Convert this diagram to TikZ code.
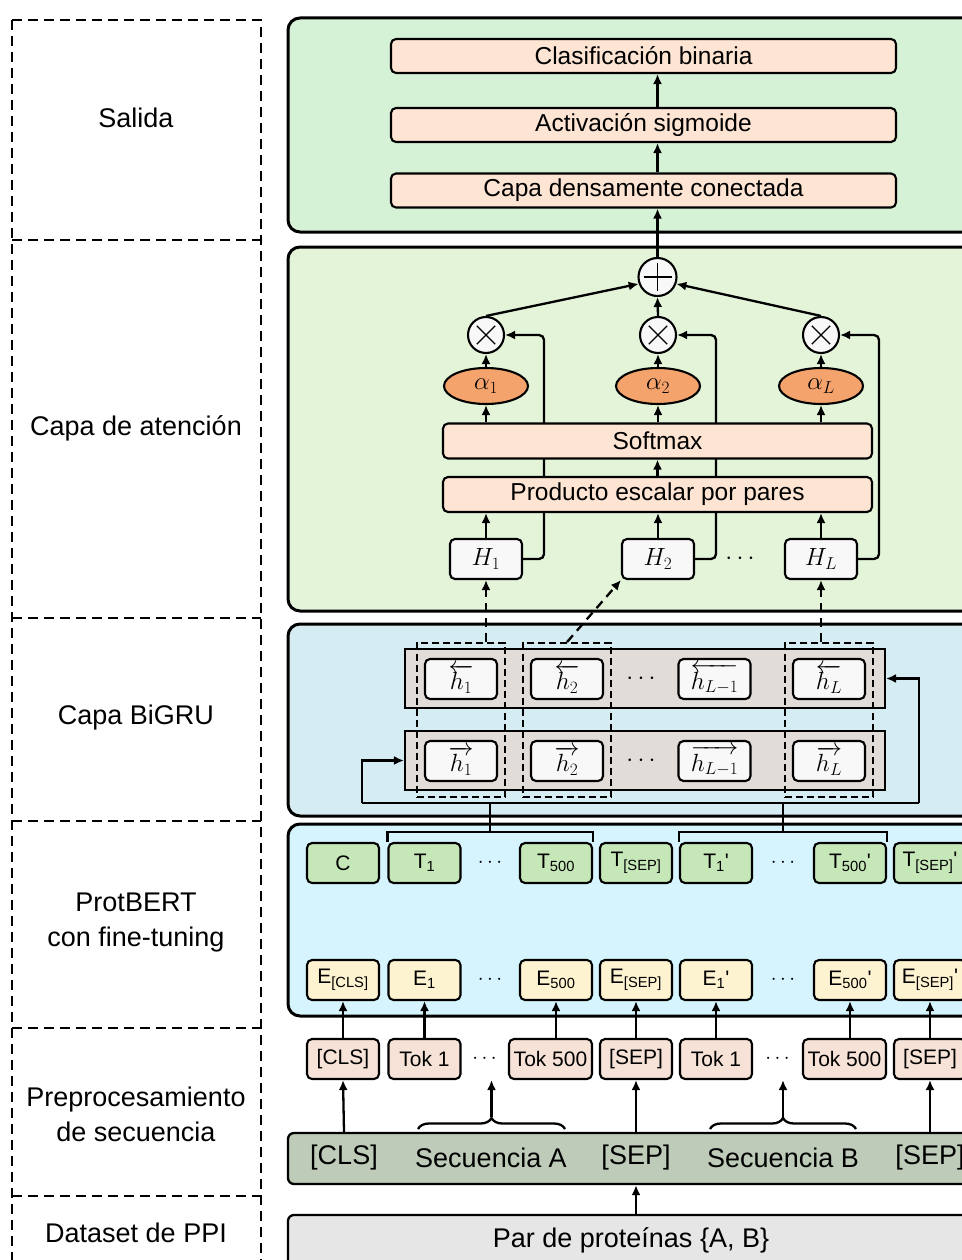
\documentclass[tikz,border=0pt]{standalone}
\usepackage[no-math]{fontspec}
\setmainfont{Liberation Sans}
\DeclareMathSizes{24.88}{24.88}{17.28}{12}
\usetikzlibrary{arrows.meta,positioning,shapes.geometric,fit,calc,decorations.pathreplacing}

\definecolor{outgreen}{HTML}{D5F2D6}
\definecolor{attgreen}{HTML}{E3F4D9}
\definecolor{grublue}{HTML}{D5ECF3}
\definecolor{bertblue}{HTML}{D6F4FD}
\definecolor{seqgray}{HTML}{BDCBB8}
\definecolor{pairgray}{HTML}{E6E6E6}
\definecolor{peach}{HTML}{FDE4D3}
\definecolor{alphaorange}{HTML}{F5A36D}
\definecolor{cellwhite}{HTML}{F8F8F8}
\definecolor{grubar}{HTML}{E2DCD9}
\definecolor{tgreen}{HTML}{C6E8B8}
\definecolor{eyellow}{HTML}{FEF3D0}
\definecolor{tokpink}{HTML}{F6E2D6}

\begin{document}
\begin{tikzpicture}[x=1pt,y=-1pt,line width=2.3pt,>={Latex[length=10pt,width=9pt]}]
  \tikzstyle{panel}=[draw,line width=3pt,rounded corners=12pt]
  \tikzstyle{secframe}=[dash pattern=on 10pt off 6pt,line width=2.5pt]
  \tikzstyle{seclab}=[align=center,font=\fontsize{27}{35}\selectfont]
  \tikzstyle{boxP}=[rectangle,draw,line width=2.1pt,rounded corners=5pt,fill=peach,minimum height=34pt,inner sep=0pt,font=\fontsize{24.5}{29}\selectfont]
  \tikzstyle{opC}=[circle,draw,line width=2.1pt,fill=cellwhite,minimum size=36pt,inner sep=0pt]
  \tikzstyle{alphaE}=[ellipse,draw,line width=2.1pt,fill=alphaorange,minimum width=84pt,minimum height=36pt,inner sep=0pt,font=\fontsize{24.88}{29}\selectfont]
  \tikzstyle{cellH}=[rectangle,draw,line width=2.1pt,rounded corners=5pt,fill=cellwhite,minimum width=72pt,minimum height=40pt,inner sep=0pt,font=\fontsize{24.88}{29}\selectfont]
  \tikzstyle{gruBar}=[rectangle,draw,line width=2.1pt,fill=grubar,minimum width=480pt,minimum height=59pt,inner sep=0pt]
  \tikzstyle{colbox}=[draw,line width=1.8pt,dash pattern=on 7pt off 4pt,inner xsep=7pt,inner ysep=15pt]
  \tikzstyle{tokT}=[rectangle,draw,line width=2.1pt,rounded corners=5pt,minimum width=72pt,minimum height=40pt,inner sep=0pt,font=\fontsize{21}{25}\selectfont]
  \tikzstyle{seqtxt}=[font=\fontsize{27}{32}\selectfont]
  \tikzstyle{dashedarr}=[->,dash pattern=on 9pt off 6pt]
  \tikzstyle{brace}=[decorate,decoration={brace,amplitude=11pt}]

  \useasboundingbox (0,0) rectangle (961,1260);

  % layer panels
  \draw[panel,fill=outgreen] (288,18) rectangle (1000,232);
  \draw[panel,fill=attgreen] (288,247) rectangle (1000,611);
  \draw[panel,fill=grublue] (288,624) rectangle (1000,816);
  \draw[panel,fill=bertblue] (288,824) rectangle (1000,1016);

  % left column
  \node[seclab] (lOut)  at (136,118)  {Salida};
  \node[seclab] (lAtt)  at (136,428)  {Capa de atención};
  \node[seclab] (lGru)  at (136,718)  {Capa BiGRU};
  \node[seclab] (lBert) at (136,923)  {ProtBERT\\con fine-tuning};
  \node[seclab] (lPre)  at (136,1114) {Preprocesamiento\\de secuencia};
  \node[seclab] (lPpi)  at (136,1233) {Dataset de PPI};
  \draw[secframe] (12,20) rectangle (261,1280);
  \foreach \yy in {240,618,821,1028,1196}
    \draw[secframe] (12,\yy) -- (261,\yy);

  % attention
  \node[opC,minimum size=38pt] (sum) at (657.5,277) {};
  \draw[line width=1.1pt] ($(sum)+(-14,0)$) -- ($(sum)+(14,0)$) ($(sum)+(0,-14)$) -- ($(sum)+(0,14)$);
  \foreach \n/\xx in {1/486,2/658,L/821} {
    \node[opC] (m\n) at (\xx,335) {};
    \draw[line width=1.1pt] ($(m\n)+(45:13)$) -- ($(m\n)+(225:13)$) ($(m\n)+(135:13)$) -- ($(m\n)+(315:13)$);
    \node[alphaE] (a\n) at (\xx,386) {$\alpha_{\n}$};
    \node[cellH] (H\n) at (\xx,559) {$H_{\n}$};
    \draw[->,rounded corners=5pt] (H\n.east) -- ++(21,0) |- (m\n.east);
  }
  \node at (740,559) {\fontsize{24.88}{29}\selectfont$\cdots$};

  \node[boxP,minimum width=429pt,minimum height=35pt] (soft) at (657.5,441) {Softmax};
  \node[boxP,minimum width=429pt,minimum height=35pt] (dot) at (657.5,494.5) {Producto escalar por pares};

  \foreach \n in {1,2,L} {
    \draw[->] (H\n.north) -- (H\n |- dot.south);
    \draw[->] (soft.north -| a\n) -- (a\n.south);
    \draw[->] (a\n.north) -- (m\n.south);
  }
  \draw[->] (dot.north -| sum) -- (soft.south -| sum);
  \draw[->] (m1.north) -- (sum.200);
  \draw[->] (m2.north) -- (sum.south);
  \draw[->] (mL.north) -- (sum.-20);

  % output
  \node[boxP,minimum width=505pt] (cls)   at (643.5,56)    {Clasificación binaria};
  \node[boxP,minimum width=505pt] (sig)   at (643.5,125)   {Activación sigmoide};
  \node[boxP,minimum width=505pt] (dense) at (643.5,190.5) {Capa densamente conectada};
  \draw[->] (sum.north) -- (sum |- dense.south);
  \draw[->] (dense.north -| sum) -- (sig.south -| sum);
  \draw[->] (sig.north -| sum) -- (cls.south -| sum);

  % BiGRU
  \coordinate (gL) at (362,803);
  \coordinate (gR) at (919,803);
  \draw (gL) -- (gR);
  \node[gruBar] (bw) at (645,678.5) {};
  \node[gruBar] (fw) at (645,760.5) {};
  \draw[->] (gL) |- (fw.west);
  \draw[->] (gR) |- (bw.east);
  \foreach \n/\xx/\lab in {1/461/1,2/567/2,m/714.5/{L-1},L/829/L} {
    \node[cellH] (b\n) at (\xx,679) {$\overleftarrow{h_{\lab}}$};
    \node[cellH] (f\n) at (\xx,761) {$\overrightarrow{h_{\lab}}$};
  }
  \node at (641,679) {\fontsize{24.88}{29}\selectfont$\cdots$};
  \node at (641,761) {\fontsize{24.88}{29}\selectfont$\cdots$};
  \node[colbox,fit=(b1)(f1)] (c1) {};
  \node[colbox,fit=(b2)(f2)] (c2) {};
  \node[colbox,fit=(bL)(fL)] (cL) {};
  \draw[dashedarr] (c1.north -| H1) -- (H1.south);
  \draw[dashedarr] (c2.north) -- (H2.south west);
  \draw[dashedarr] (cL.north -| HL) -- (HL.south);

  % ProtBERT
  \foreach \n/\xx/\lab in {C/343/C,1/424.5/{T\textsubscript{1}},500/556/{T\textsubscript{500}},S/636/{T\textsubscript{[SEP]}},
      1p/716/{T\textsubscript{1}\textquotesingle},500p/850/{T\textsubscript{500}\textquotesingle},Sp/930/{T\textsubscript{[SEP]}\textquotesingle}}
    \node[tokT,fill=tgreen] (t\n) at (\xx,863) {\lab};
  \foreach \n/\xx/\lab in {C/343/{E\textsubscript{[CLS]}},1/424.5/{E\textsubscript{1}},500/556/{E\textsubscript{500}},S/636/{E\textsubscript{[SEP]}},
      1p/716/{E\textsubscript{1}\textquotesingle},500p/850/{E\textsubscript{500}\textquotesingle},Sp/930/{E\textsubscript{[SEP]}\textquotesingle}}
    \node[tokT,fill=eyellow] (e\n) at (\xx,980) {\lab};
  \foreach \yy in {863,980} {
    \node at (490,\yy) {\fontsize{21}{25}\selectfont$\cdots$};
    \node at (783,\yy) {\fontsize{21}{25}\selectfont$\cdots$};
  }
  \draw (t1.north west) -- ++(0,-10) -| (t500.north east);
  \draw (t1p.north west) -- ++(0,-10) -| (t500p.north east);
  \draw ($(t1.north west)!0.5!(t500.north east)+(0,-10)$) -- ++(0,-30);
  \draw ($(t1p.north west)!0.5!(t500p.north east)+(0,-10)$) -- ++(0,-30);

  % preprocessing
  \node[panel,line width=2.3pt,rounded corners=6pt,fill=seqgray,minimum width=712pt,minimum height=51pt] (seq) at (644,1158.5) {};
  \node[panel,line width=2.3pt,rounded corners=6pt,fill=pairgray,minimum width=712pt,minimum height=80pt] (pair) at (644,1255) {};
  \node[seqtxt] (pairT) at (631,1240) {Par de proteínas \{A, B\}};
  \node[seqtxt] (sCLS) at (344,1158) {[CLS]};
  \node[seqtxt] (sA)   at (491,1158) {Secuencia A};
  \node[seqtxt] (sS)   at (636,1158) {[SEP]};
  \node[seqtxt] (sB)   at (783,1158) {Secuencia B};
  \node[seqtxt] (sS2)  at (930,1158) {[SEP]};
  \draw[->] (pair.north -| sS) -- (seq.south -| sS);

  \foreach \n/\xx/\ww/\lab in {C/343/72/{[CLS]},1/424.5/72/{Tok 1},500/550.5/83/{Tok 500},S/636/72/{[SEP]},
      1p/716/72/{Tok 1},500p/844.5/83/{Tok 500},Sp/930/72/{[SEP]}}
    \node[tokT,fill=tokpink,minimum width=\ww pt] (k\n) at (\xx,1059) {\lab};
  \node at (484.5,1059) {\fontsize{21}{25}\selectfont$\cdots$};
  \node at (777.5,1059) {\fontsize{21}{25}\selectfont$\cdots$};
  \foreach \n in {C,1,500,S,1p,500p,Sp}
    \draw[->] (k\n.north -| e\n) -- (e\n.south);

  \draw[->] (seq.north -| sCLS) -- (kC.south);
  \draw[->] (seq.north -| sS) -- (kS.south);
  \draw[->] (seq.north -| sS2) -- (kSp.south);
  \draw[brace] (418,1129) -- (565,1129);
  \draw[brace] (710,1129) -- (856,1129);
  \coordinate (tipA) at (491.5,1117);
  \coordinate (tipB) at (783,1117);
  \draw[->] (tipA) -- (tipA |- k1.south);
  \draw[->] (tipB) -- (tipB |- k1p.south);
\end{tikzpicture}
\end{document}
